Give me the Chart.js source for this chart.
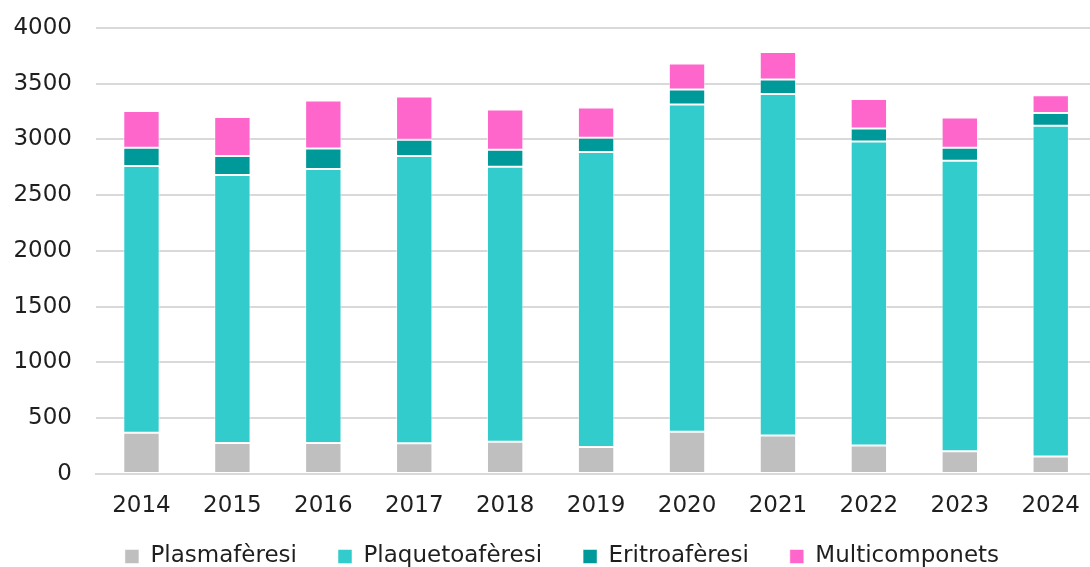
<!DOCTYPE html>
<html>
<head>
<meta charset="utf-8">
<script src="https://cdn.jsdelivr.net/npm/chart.js@4.4.1/dist/chart.umd.min.js"></script>
<style>
  html, body { margin: 0; padding: 0; background: #fff; overflow: hidden; }
  #wrap { width: 1098px; height: 588px; margin-top: -10px; }
</style>
</head>
<body>
<div id="wrap"><canvas id="afChart"></canvas></div>
<script>
const years = ["2014", "2015", "2016", "2017", "2018", "2019", "2020", "2021", "2022", "2023", "2024"];
const plasmaferesi = [369, 279, 279, 276, 288, 243, 378, 345, 255, 204, 156];
const plaquetoaferesi = [2392, 2401, 2455, 2575, 2467, 2644, 2934, 3061, 2725, 2605, 2967];
const eritroaferesi = [164, 171, 183, 146, 152, 128, 135, 131, 117, 116, 114];
const multicomponets = [329, 350, 431, 387, 360, 270, 234, 246, 264, 270, 159];

const fontFamily = "'DejaVu Sans', sans-serif";
const textColor = "#1f1f1f";

function makeSet(label, data, color) {
  return {
    label: label,
    data: data,
    backgroundColor: color,
    borderColor: "rgba(255,255,255,0.5)",
    borderWidth: 1,
    borderSkipped: false,
    barPercentage: 0.8,
    categoryPercentage: 0.5,
  };
}

// legenda una mica a la dreta i etiquetes de l'eix X sense retallar
const layoutTweaks = {
  id: "layoutTweaks",
  afterLayout(chart) {
    chart.legend.left += 26;
    chart.scales.x._computeLabelArea = () => undefined;
  },
};

new Chart(document.getElementById("afChart"), {
  type: "bar",
  data: {
    labels: years,
    datasets: [
      makeSet("Plasmafèresi", plasmaferesi, "#BFBFBF"),
      makeSet("Plaquetoafèresi", plaquetoaferesi, "#33CCCC"),
      makeSet("Eritroafèresi", eritroaferesi, "#009999"),
      makeSet("Multicomponets", multicomponets, "#FF66CC"),
    ],
  },
  plugins: [layoutTweaks],
  options: {
    responsive: true,
    maintainAspectRatio: false,
    animation: false,
    layout: {
      padding: { top: 10, right: 0, left: 0, bottom: 0 },
    },
    plugins: {
      tooltip: { enabled: false },
      legend: {
        position: "bottom",
        labels: {
          color: textColor,
          boxWidth: 14,
          boxHeight: 14,
          padding: 41,
          font: { family: fontFamily, size: 23 },
        },
      },
    },
    scales: {
      x: {
        stacked: true,
        afterFit: (s) => { s.height = 30; },
        grid: { display: false, drawTicks: false },
        border: { color: "#D9D9D9", width: 2 },
        ticks: {
          color: textColor,
          padding: 18,
          font: { family: fontFamily, size: 23 },
        },
      },
      y: {
        stacked: true,
        min: 0,
        max: 4000,
        afterFit: (s) => { s.width = 96; },
        grid: { color: "#D9D9D9", lineWidth: 2, drawTicks: false },
        border: { display: false },
        ticks: {
          stepSize: 500,
          color: textColor,
          padding: 24,
          font: { family: fontFamily, size: 23 },
          callback: (v) => String(v),
        },
      },
    },
  },
});
</script>
</body>
</html>
